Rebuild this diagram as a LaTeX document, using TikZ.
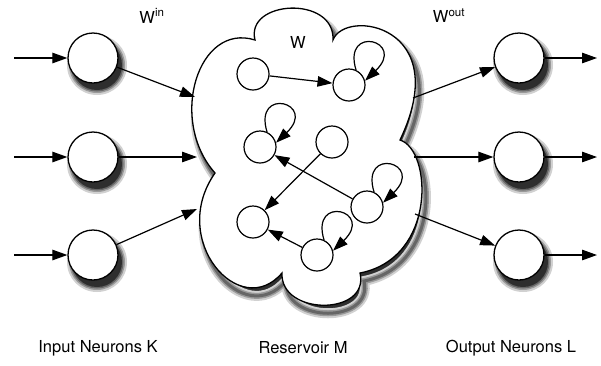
\documentclass[tikz,border=0pt]{standalone}
\usepackage{fontspec}
\setmainfont{TeX Gyre Heros}
\usetikzlibrary{arrows.meta}
\definecolor{shA}{gray}{0.82}
\definecolor{shB}{gray}{0.60}
\definecolor{shC}{gray}{0.40}
\definecolor{shD}{gray}{0.18}
\tikzset{
  neuron/.style={circle,draw,line width=1.3pt,fill=white,minimum size=50pt,inner sep=0pt},
  rneuron/.style={circle,draw,line width=1.2pt,fill=white,minimum size=32pt,inner sep=0pt},
  arr/.style={line width=1.2pt,-{Triangle[length=15pt,width=10.5pt,fill=black]}},
  lbl/.style={font=\fontsize{16.5}{18}\selectfont,inner sep=0pt},
  shn/.style={circle,inner sep=0pt,draw=none},
  shadowA/.style={draw=shA,fill=shD,line width=10pt},
  shadowB/.style={draw=shB,line width=6pt},
  shadowC/.style={draw=shC,line width=3pt}
}
\newcommand{\cloudpath}{(255,40) .. controls (245,0) and (335,-5) .. (333,40)
  .. controls (345,8) and (455,25) .. (400,140)
  .. controls (432,150) and (437,258) .. (360,273)
  .. controls (370,316) and (280,316) .. (282,273)
  .. controls (240,322) and (168,240) .. (215,173)
  .. controls (168,120) and (198,22) .. (255,40) -- cycle}
\newcommand{\neushadow}[3]{%
  \node[shn,fill=shA,minimum size=60pt] (#1a) at (#2,#3) {};
  \node[shn,fill=shB,minimum size=56pt] (#1b) at (#2,#3) {};
  \node[shn,fill=shC,minimum size=53pt] (#1c) at (#2,#3) {};
  \node[shn,fill=shD,minimum size=50pt] (#1d) at (#2,#3) {};}
\newcommand{\selfloop}[1]{\draw[arr] (#1.65) .. controls +(-14,-46) and +(42,-40) .. (#1.15);}
\begin{document}
\begin{tikzpicture}[x=1pt,y=-1pt]
\useasboundingbox (0,0) rectangle (601,365);
% cloud shadow
\begin{scope}[xshift=4pt,yshift=-8pt]
  \path[shadowA] \cloudpath;
  \path[shadowB] \cloudpath;
  \path[shadowC] \cloudpath;
\end{scope}
% neuron shadows
\neushadow{si1}{97}{65}
\neushadow{si2}{97}{164}
\neushadow{si3}{97}{262}
\neushadow{so1}{523}{65}
\neushadow{so2}{523}{164}
\neushadow{so3}{523}{262}
% cloud
\path[draw,fill=white,line width=1.3pt] \cloudpath;
% input neurons
\node[neuron] (i1) at (93,58) {};
\node[neuron] (i2) at (93,157) {};
\node[neuron] (i3) at (93,255) {};
% output neurons
\node[neuron] (o1) at (519,58) {};
\node[neuron] (o2) at (519,157) {};
\node[neuron] (o3) at (519,255) {};
% free ends
\coordinate (s1) at (14,58);
\coordinate (s2) at (14,157);
\coordinate (s3) at (14,255);
\coordinate (e1) at (597,58);
\coordinate (e2) at (597,157);
\coordinate (e3) at (597,255);
\coordinate (cin1) at (195,97);
\coordinate (cin2) at (197,157);
\coordinate (cin3) at (197,209);
\coordinate (cout1) at (413,98);
\coordinate (cout2) at (414,157);
\coordinate (cout3) at (415,214);
% reservoir neurons
\node[rneuron] (n1) at (253,74) {};
\node[rneuron] (n2) at (349,85) {};
\node[rneuron] (n3) at (260,147) {};
\node[rneuron] (n4) at (332,142) {};
\node[rneuron] (n5) at (367,207) {};
\node[rneuron] (n6) at (253,222) {};
\node[rneuron] (n7) at (317,255) {};
% connectors
\draw[arr] (s1) -- (i1);
\draw[arr] (s2) -- (i2);
\draw[arr] (s3) -- (i3);
\draw[arr] (i1) -- (cin1);
\draw[arr] (i2) -- (cin2);
\draw[arr] (i3) -- (cin3);
\draw[arr] (cout1) -- (o1);
\draw[arr] (cout2) -- (o2);
\draw[arr] (cout3) -- (o3);
\draw[arr] (o1) -- (e1);
\draw[arr] (o2) -- (e2);
\draw[arr] (o3) -- (e3);
\draw[arr] (n1) -- (n2);
\draw[arr] (n4) -- (n6);
\draw[arr] (n5) -- (n3);
\draw[arr] (n7) -- (n6);
\selfloop{n2}
\selfloop{n3}
\selfloop{n5}
\selfloop{n7}
% labels
\node[lbl] (win) at (152,16) {W\textsuperscript{in}};
\node[lbl] (wout) at (449,16) {W\textsuperscript{out}};
\node[lbl] (w) at (298,42) {W};
\node[lbl] (lin) at (98,348) {Input Neurons K};
\node[lbl] (lres) at (303,348) {Reservoir M};
\node[lbl] (lout) at (511,348) {Output Neurons L};
\end{tikzpicture}
\end{document}
